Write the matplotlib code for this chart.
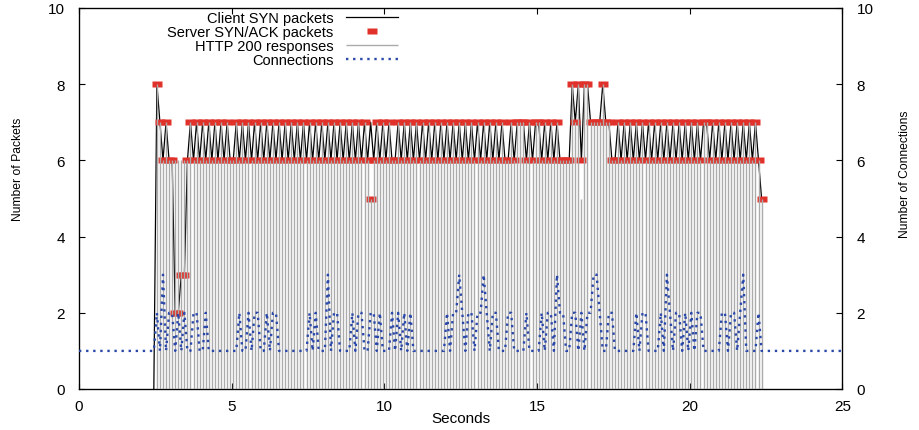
import numpy as np
import matplotlib
matplotlib.use("Agg")
import matplotlib.pyplot as plt

plt.rcParams['font.family'] = ['Liberation Sans', 'DejaVu Sans']

# ---------------- data (0.1 s bins starting at 2.45 s) ----------------
bin_start = 2.45
bin_width = 0.1

client_syn = [
    0, 8, 7, 6, 7, 6, 6, 2, 2, 3,
    3, 6, 7, 6, 7, 6, 7, 6, 7, 6,
    7, 6, 7, 6, 7, 6, 6, 7, 6, 7,
    6, 7, 6, 7, 6, 7, 6, 7, 6, 7,
    6, 7, 6, 7, 6, 7, 6, 7, 6, 7,
    6, 7, 6, 7, 6, 7, 6, 7, 6, 7,
    6, 7, 6, 7, 6, 7, 6, 7, 6, 7,
    6, 7, 6, 7, 6, 7, 6, 7, 6, 6,
    7, 6, 7, 6, 7, 6, 7, 6, 7, 6,
    7, 6, 7, 6, 7, 6, 7, 6, 7, 6,
    7, 6, 7, 6, 7, 6, 7, 6, 7, 6,
    7, 6, 7, 6, 7, 6, 6, 7, 6, 7,
    7, 7, 6, 7, 6, 7, 7, 6, 7, 6,
    7, 6, 7, 6, 6, 6, 6, 8, 7, 8,
    6, 8, 8, 7, 7, 7, 7, 8, 7, 7,
    6, 6, 7, 6, 7, 6, 7, 6, 7, 6,
    7, 6, 7, 6, 7, 6, 7, 6, 7, 6,
    7, 6, 7, 6, 7, 6, 7, 6, 7, 6,
    7, 7, 6, 7, 6, 7, 6, 7, 6, 7,
    6, 7, 6, 7, 6, 7, 6, 7, 6, 5,
]

server_synack = [
    np.nan, 8, 7, 6, 7, 6, 6, 2, 2, 3,
    3, 6, 7, 6, 7, 6, 7, 6, 7, 6,
    7, 6, 7, 6, 7, 6, 6, 7, 6, 7,
    6, 7, 6, 7, 6, 7, 6, 7, 6, 7,
    6, 7, 6, 7, 6, 7, 6, 7, 6, 7,
    6, 7, 6, 7, 6, 7, 6, 7, 6, 7,
    6, 7, 6, 7, 6, 7, 6, 7, 6, 7,
    6, 5, 6, 7, 6, 7, 6, 7, 6, 6,
    7, 6, 7, 6, 7, 6, 7, 6, 7, 6,
    7, 6, 7, 6, 7, 6, 7, 6, 7, 6,
    7, 6, 7, 6, 7, 6, 7, 6, 7, 6,
    7, 6, 7, 6, 7, 6, 6, 7, 6, 7,
    7, 7, 6, 7, 6, 7, 7, 6, 7, 6,
    7, 6, 7, 6, 6, 6, 6, 8, 7, 8,
    6, 8, 8, 7, 7, 7, 7, 8, 7, 7,
    6, 6, 7, 6, 7, 6, 7, 6, 7, 6,
    7, 6, 7, 6, 7, 6, 7, 6, 7, 6,
    7, 6, 7, 6, 7, 6, 7, 6, 7, 6,
    7, 7, 6, 7, 6, 7, 6, 7, 6, 7,
    6, 7, 6, 7, 6, 7, 6, 7, 6, 5,
]

http_200 = [
    0, 8, 7, 6, 7, 6, 6, 6, 6, 6,
    6, 6, 7, 6, 7, 6, 7, 6, 7, 6,
    7, 6, 7, 6, 7, 6, 6, 7, 6, 7,
    6, 7, 6, 7, 6, 7, 6, 7, 6, 7,
    6, 7, 6, 7, 6, 7, 6, 7, 6, 7,
    6, 7, 6, 7, 6, 7, 6, 7, 6, 7,
    6, 7, 6, 7, 6, 7, 6, 7, 6, 7,
    6, 5, 6, 7, 6, 7, 6, 7, 6, 6,
    7, 6, 7, 6, 7, 6, 7, 6, 7, 6,
    7, 6, 7, 6, 7, 6, 7, 6, 7, 6,
    7, 6, 7, 6, 7, 6, 7, 6, 7, 6,
    7, 6, 7, 6, 7, 6, 6, 7, 6, 7,
    7, 7, 6, 7, 6, 7, 7, 6, 7, 6,
    7, 6, 7, 6, 6, 6, 6, 8, 7, 8,
    5, 8, 8, 7, 7, 7, 7, 8, 7, 7,
    6, 6, 7, 6, 7, 6, 7, 6, 7, 6,
    7, 6, 7, 6, 7, 6, 7, 6, 7, 6,
    7, 6, 7, 6, 7, 6, 7, 6, 7, 6,
    7, 7, 6, 7, 6, 7, 6, 7, 6, 7,
    6, 7, 6, 7, 6, 7, 6, 7, 6, 5,
]

connections = [
    1, 2, 1, 3, 1, 2, 2, 1, 2, 1,
    2, 1, 1, 2, 2, 1, 1, 2, 1, 1,
    1, 1, 1, 1, 1, 1, 1, 1, 2, 1,
    1, 2, 1, 2, 2, 1, 1, 2, 1, 2,
    2, 1, 1, 1, 1, 1, 1, 1, 1, 1,
    1, 2, 1, 2, 1, 1, 1, 3, 1, 2,
    2, 1, 1, 1, 1, 2, 1, 2, 2, 1,
    1, 2, 2, 1, 2, 1, 1, 1, 2, 1,
    2, 1, 2, 1, 2, 1, 1, 1, 1, 1,
    1, 1, 1, 1, 1, 1, 2, 1, 2, 2,
    3, 2, 1, 2, 2, 1, 2, 2, 3, 2,
    1, 2, 2, 1, 1, 1, 2, 2, 1, 1,
    1, 1, 2, 1, 1, 1, 1, 2, 1, 2,
    2, 1, 3, 2, 2, 1, 1, 2, 2, 1,
    2, 1, 2, 2, 3, 3, 2, 1, 1, 2,
    2, 1, 1, 1, 1, 1, 1, 1, 2, 1,
    2, 2, 1, 1, 1, 1, 2, 1, 3, 2,
    1, 2, 2, 1, 2, 1, 2, 1, 2, 2,
    1, 1, 1, 1, 1, 1, 2, 2, 1, 2,
    2, 1, 2, 3, 1, 1, 1, 1, 2, 1,
]
idle_connections = 1

x_ticks = [0, 5, 10, 15, 20, 25]
y_ticks = [0, 2, 4, 6, 8, 10]

# ---------------- styles ----------------
RED = '#e0322a'
BLUE = '#2a48aa'
GRAY = '#ababab'

t = bin_start + bin_width * np.arange(len(client_syn))

fig = plt.figure(figsize=(9.2, 4.31), dpi=100)
ax = fig.add_axes([79 / 920, 41 / 431, 763.5 / 920, 381 / 431])

rect = [(-1, -0.7), (1, -0.7), (1, 0.7), (-1, 0.7), (-1, -0.7)]

l1, = ax.plot(t, client_syn, color='black', lw=0.9, zorder=2,
              label='Client SYN packets')
l2, = ax.plot(t, server_synack, ls='none', marker=rect, ms=6.5,
              mfc=RED, mec='none', zorder=3, label='Server SYN/ACK packets')
l3 = ax.vlines(t, 0, http_200, colors=GRAY, lw=1.0, zorder=4,
               label='HTTP 200 responses')

ax.set_xlim(x_ticks[0], x_ticks[-1])
ax.set_ylim(y_ticks[0], y_ticks[-1])
ax.set_xticks(x_ticks)
ax.set_yticks(y_ticks)
ax.tick_params(axis='both', direction='in', length=4, width=0.8,
               labelsize=11, top=True, right=False)
ax.tick_params(axis='y', pad=10)
ax.tick_params(axis='x', pad=7)
for s in ax.spines.values():
    s.set_linewidth(0.9)

ax2 = ax.twinx()
conn_t = np.concatenate([[x_ticks[0]], t, [x_ticks[-1]]])
conn_v = [idle_connections] + connections + [idle_connections]
l4, = ax2.plot(conn_t, conn_v, color=BLUE, lw=1.7, ls=(0, (1, 2.0)),
               dash_capstyle='butt', zorder=5, label='Connections')
ax2.set_ylim(y_ticks[0], y_ticks[-1])
ax2.set_yticks(y_ticks)
ax2.tick_params(axis='y', direction='in', length=4, width=0.8,
                labelsize=11, pad=10)

ax.set_xlabel('Seconds', fontsize=11, va='center')
ax.xaxis.set_label_coords(0.5, -0.076)
ax.set_ylabel('Number of Packets', fontsize=8.7, va='center', ha='center')
ax.yaxis.set_label_coords(-0.08, 0.58)
ax2.set_ylabel('Number of Connections', fontsize=8.7, va='center',
               ha='center', rotation=90)
ax2.yaxis.set_label_coords(1.082, 0.567)

ax2.legend([l1, l2, l3, l4],
           ['Client SYN packets', 'Server SYN/ACK packets',
            'HTTP 200 responses', 'Connections'],
           loc='upper right', bbox_to_anchor=(0.418, 0.993),
           bbox_transform=ax.transAxes, frameon=False, markerfirst=False,
           fontsize=10.5, handlelength=3.6, handletextpad=0.82,
           labelspacing=0.01, borderpad=0, borderaxespad=0, numpoints=1)

fig.savefig('out.png', dpi=100)
